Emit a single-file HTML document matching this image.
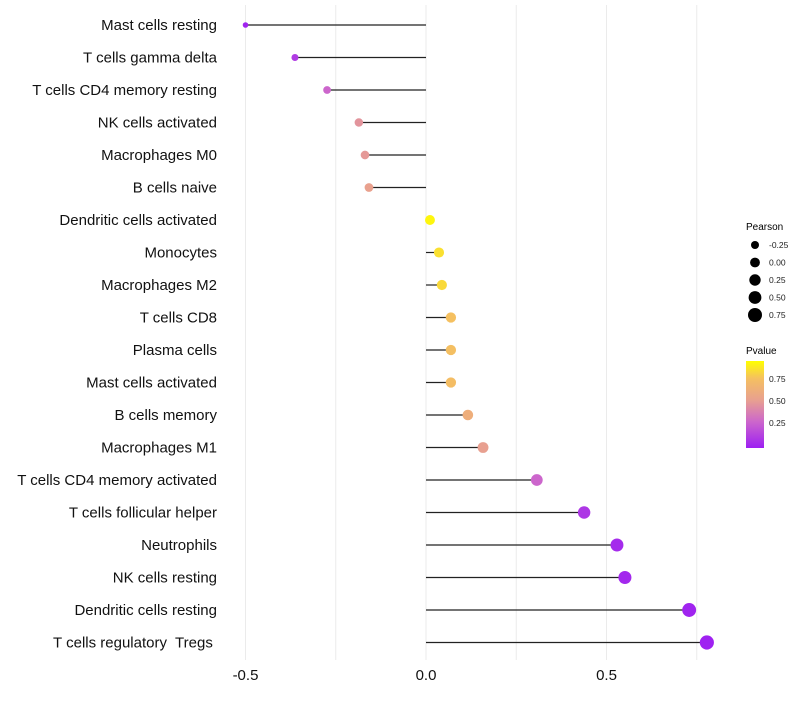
<!DOCTYPE html>
<html><head><meta charset="utf-8"><style>
body{margin:0;background:#fff}
svg{font-family:"Liberation Sans",sans-serif}
text{white-space:pre}
</style></head><body>
<svg width="800" height="700">
<g id="grid"></g>
<g id="marks"></g>
<g id="legend">
<text x="746" y="230" font-size="10">Pearson</text>
<text x="746" y="354" font-size="10">Pvalue</text>
<defs><linearGradient id="pg" x1="0" y1="1" x2="0" y2="0">
<stop offset="0" stop-color="#9d1ff2"/><stop offset="0.3" stop-color="#cc66cc"/><stop offset="0.55" stop-color="#e8a090"/><stop offset="0.8" stop-color="#f5c060"/><stop offset="1" stop-color="#ffff00"/>
</linearGradient></defs>
<rect x="746" y="361" width="18" height="87" fill="url(#pg)"/>
</g>
</svg>
<script>
const categories=["Mast cells resting","T cells gamma delta","T cells CD4 memory resting","NK cells activated","Macrophages M0","B cells naive","Dendritic cells activated","Monocytes","Macrophages M2","T cells CD8","Plasma cells","Mast cells activated","B cells memory","Macrophages M1","T cells CD4 memory activated","T cells follicular helper","Neutrophils","NK cells resting","Dendritic cells resting","T cells regulatory  Tregs "];
const pearson=[-0.50,-0.363,-0.274,-0.186,-0.169,-0.158,0.011,0.036,0.044,0.069,0.069,0.069,0.116,0.158,0.307,0.438,0.529,0.551,0.729,0.778];
const pvalues=[0.02,0.12,0.3,0.5,0.52,0.56,0.97,0.9,0.88,0.8,0.79,0.78,0.66,0.55,0.3,0.1,0.05,0.04,0.02,0.01];
const xTicks=[-0.5,0,0.5];
const xTickLabels=["-0.5","0.0","0.5"];
const sizeLegend=[-0.25,0,0.25,0.5,0.75];
const colorTicks=[0.25,0.5,0.75];

const NS="http://www.w3.org/2000/svg";
const x=v=>426+v*361;
const y=i=>25+i*32.5;
const r=p=>Math.max(2,Math.sqrt(24.25+33*p));
const stops=[[0,[157,31,242]],[0.3,[204,102,204]],[0.55,[232,160,144]],[0.8,[245,192,96]],[1,[255,255,0]]];
function col(p){for(let k=1;k<stops.length;k++){if(p<=stops[k][0]){const a=stops[k-1],b=stops[k],t=(p-a[0])/(b[0]-a[0]);return "rgb("+a[1].map((c,j)=>Math.round(c+(b[1][j]-c)*t)).join(",")+")";}}return "rgb(255,255,0)";}
function mk(tag,attrs,parent){const e=document.createElementNS(NS,tag);for(const k in attrs)e.setAttribute(k,attrs[k]);parent.appendChild(e);return e;}
const grid=document.getElementById('grid'),marks=document.getElementById('marks'),leg=document.getElementById('legend');
[-0.5,-0.25,0,0.25,0.5,0.75].forEach(v=>{const l=mk('line',{x1:x(v),x2:x(v),y1:5,y2:660,stroke:'#ebebeb','stroke-width':1},grid);

});
xTicks.forEach((v,i)=>{const t=mk('text',{x:x(v),y:680,'font-size':15,'text-anchor':'middle',fill:'#111'},grid);t.textContent=xTickLabels[i];

});
categories.forEach((c,i)=>{
const t=mk('text',{x:217,y:y(i)+5,'font-size':15,'text-anchor':'end',fill:'#111'},marks);t.textContent=c;


const l=mk('line',{x1:x(0),x2:x(pearson[i]),y1:y(i),y2:y(i),stroke:'#222','stroke-width':1.2},marks);


const d=mk('circle',{cx:x(pearson[i]),cy:y(i),r:r(pearson[i]),fill:col(pvalues[i])},marks);


});
sizeLegend.forEach((v,i)=>{const cy=245+i*17.5;
const d=mk('circle',{cx:755,cy:cy,r:r(v),fill:'#000'},leg);


const t=mk('text',{x:769,y:cy+3,'font-size':8.5,fill:'#222'},leg);t.textContent=v.toFixed(2);

});
colorTicks.forEach(v=>{const cy=445-v*88;
const t=mk('text',{x:769,y:cy+3,'font-size':8.5,fill:'#222'},leg);t.textContent=v.toFixed(2);

});
</script>
</body></html>
